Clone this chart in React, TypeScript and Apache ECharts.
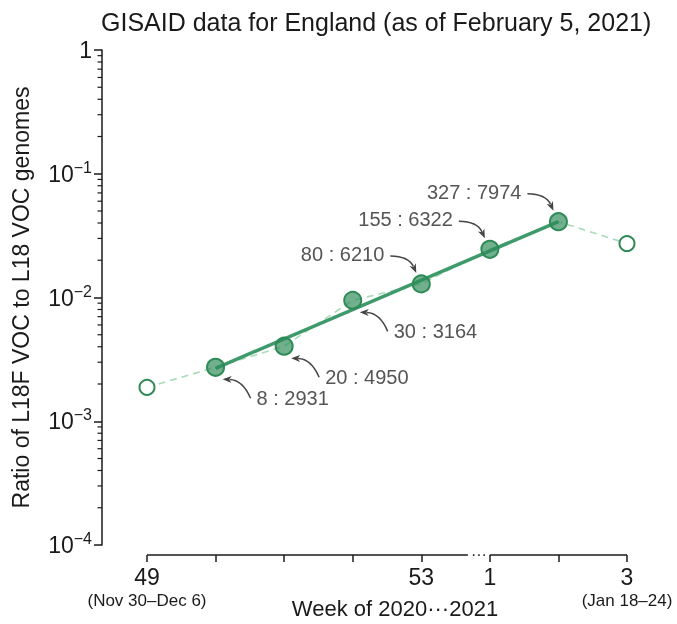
import React, { useEffect, useRef } from 'react';
import * as echarts from 'echarts';

// ---- data ----
const weekTickLabels = ['49', '', '', '', '53', '1', '', '3'];
const weekSubLabels = ['(Nov 30–Dec 6)', '', '', '', '', '', '', '(Jan 18–24)'];
const filledWeeks = [1, 2, 3, 4, 5, 6];
const l18fCounts = [8, 20, 30, 80, 155, 327];
const l18Counts = [2931, 4950, 3164, 6210, 6322, 7974];
const openWeeks = [0, 7];
const openRatios = [0.00188, 0.0273];
const fitWeeks = [1, 6];
const fitRatios = [0.00268, 0.0411];
const yTickValues = [1e-4, 1e-3, 1e-2, 1e-1, 1];

const FONT = '"Liberation Sans", Arial, sans-serif';
const GREEN = '#2e8b57';
const INK = '#1a1a1a';

const filledRatios = l18fCounts.map((n, i) => n / l18Counts[i]);

export default function App() {
  const ref = useRef<HTMLDivElement>(null);
  useEffect(() => {
    if (!ref.current) return;
    const chart = echarts.init(ref.current, undefined, { renderer: 'svg' });
    const allPts: [number, number][] = [
      [openWeeks[0], openRatios[0]],
      ...filledWeeks.map((w, i) => [w, filledRatios[i]] as [number, number]),
      [openWeeks[1], openRatios[1]],
    ];
    chart.setOption({
      animation: false,
      title: {
        text: 'GISAID data for England (as of February 5, 2021)',
        left: 96,
        top: 4,
        textStyle: { fontFamily: FONT, fontSize: 25, fontWeight: 'normal', color: INK },
      },
      grid: { left: 147, right: 50, top: 50, bottom: 79, containLabel: false, outerBoundsMode: 'none' },
      xAxis: {
        type: 'value',
        min: 0,
        max: 7,
        interval: 1,
        offset: 10,
        splitLine: { show: false },
        axisLine: { show: false, onZero: false },
        axisTick: { show: true, length: 7, lineStyle: { color: INK, width: 1.5 } },
        axisLabel: {
          margin: 9,
          formatter: (v: number) => {
            const i = Math.round(v);
            const m = weekTickLabels[i];
            if (!m) return '';
            const s = weekSubLabels[i];
            return s ? `{m|${m}}\n{s|${s}}` : `{m|${m}}`;
          },
          rich: {
            m: { fontFamily: FONT, fontSize: 23, color: INK, lineHeight: 26 },
            s: { fontFamily: FONT, fontSize: 17, color: INK, lineHeight: 20 },
          },
        },
        name: 'Week of 2020···2021',
        nameLocation: 'middle',
        nameGap: 42,
        nameMoveOverlap: false,
        nameTextStyle: { fontFamily: FONT, fontSize: 22, color: INK, padding: [0, 0, 0, 16] },
      },
      yAxis: {
        type: 'log',
        logBase: 10,
        min: 1e-4,
        max: 1,
        offset: 45,
        splitLine: { show: false },
        axisLine: { show: true, onZero: false, lineStyle: { color: INK, width: 1.5 } },
        axisTick: { show: true, length: 8, lineStyle: { color: INK, width: 1.5 } },
        axisLabel: {
          margin: 10,
          formatter: (v: number) => {
            const e = Math.round(Math.log10(v));
            if (!yTickValues.some((t) => Math.abs(Math.log10(t) - e) < 1e-6)) return '';
            return e === 0 ? '{b|1}' : `{b|10}{s|−${-e}}`;
          },
          rich: {
            b: { fontFamily: FONT, fontSize: 23, color: INK },
            s: { fontFamily: FONT, fontSize: 16, color: INK, padding: [0, 0, 13, 0] },
          },
        },
        name: 'Ratio of L18F VOC to L18 VOC genomes',
        nameLocation: 'middle',
        nameGap: 70,
        nameRotate: 90,
        nameMoveOverlap: false,
        nameTextStyle: { fontFamily: FONT, fontSize: 23, color: INK },
      },
      series: [
        {
          type: 'line',
          data: allPts,
          symbol: 'none',
          lineStyle: { color: '#a8dcb8', width: 1.6, type: [7, 5] },
          z: 1,
        },
        {
          type: 'line',
          data: fitWeeks.map((w, i) => [w, fitRatios[i]]),
          symbol: 'none',
          lineStyle: { color: '#3f9a6b', width: 3.5 },
          z: 2,
        },
        {
          type: 'scatter',
          data: filledWeeks.map((w, i) => [w, filledRatios[i]]),
          symbolSize: 17,
          itemStyle: { color: 'rgba(46,139,87,0.68)', borderColor: GREEN, borderWidth: 2, opacity: 1 },
          z: 3,
        },
        {
          type: 'scatter',
          data: openWeeks.map((w, i) => [w, openRatios[i]]),
          symbolSize: 15,
          itemStyle: { color: '#fff', borderColor: GREEN, borderWidth: 2, opacity: 1 },
          z: 3,
        },
      ],
    });

    const px = (x: number, y: number) => chart.convertToPixel({ gridIndex: 0 }, [x, y]) as number[];
    const els: any[] = [];
    const base = px(0, 1e-4);
    const axisY = base[1] + 10;
    const axisX = base[0] - 45;
    // broken x axis line
    const x0 = px(0, 1)[0];
    const xb1 = px(4.68, 1)[0];
    const xdots = px(4.84, 1)[0];
    const xb2 = px(5, 1)[0];
    const x7 = px(7, 1)[0];
    els.push({ type: 'line', shape: { x1: x0, y1: axisY, x2: xb1, y2: axisY }, style: { stroke: INK, lineWidth: 1.5 } });
    els.push({ type: 'line', shape: { x1: xb2, y1: axisY, x2: x7, y2: axisY }, style: { stroke: INK, lineWidth: 1.5 } });
    els.push({
      type: 'text', x: xdots, y: axisY - 1,
      style: { text: '···', fill: INK, fontSize: 16, fontFamily: FONT, align: 'center', verticalAlign: 'middle' },
    });
    // minor ticks on log y axis
    for (let e = -4; e < 0; e++) {
      for (let k = 2; k <= 9; k++) {
        const y = px(0, k * Math.pow(10, e))[1];
        els.push({ type: 'line', shape: { x1: axisX - 4.5, y1: y, x2: axisX, y2: y }, style: { stroke: INK, lineWidth: 1.2 } });
      }
    }
    // annotations (arc-style arrows)
    filledWeeks.forEach((w, i) => {
      const p = px(w, filledRatios[i]);
      const above = i >= 3;
      const label = `${l18fCounts[i]} : ${l18Counts[i]}`;
      let tx, ty, s, t, align, rad;
      if (above) {
        tx = p[0] - 37; ty = p[1] - 30; align = 'right';
        s = [p[0] - 31, p[1] - 28]; t = [p[0] - 5, p[1] - 11]; rad = 0.32;
      } else {
        tx = p[0] + 41; ty = p[1] + 31; align = 'left';
        s = [p[0] + 35, p[1] + 31]; t = [p[0] + 7, p[1] + 12]; rad = -0.32;
      }
      const mx = (s[0] + t[0]) / 2, my = (s[1] + t[1]) / 2;
      const ddx = t[0] - s[0], ddy = t[1] - s[1];
      const c = [mx + rad * ddy, my - rad * ddx];
      els.push({
        type: 'text', x: tx, y: ty,
        style: { text: label, fill: '#555', fontSize: 20, fontFamily: FONT, align, verticalAlign: 'middle' },
      });
      const dx = t[0] - c[0], dy = t[1] - c[1];
      const len = Math.hypot(dx, dy);
      const ux = dx / len, uy = dy / len;
      const L = 9, W = 3.5;
      const bx = t[0] - ux * L, by = t[1] - uy * L;
      els.push({
        type: 'bezierCurve',
        shape: { x1: s[0], y1: s[1], x2: bx + ux * 2, y2: by + uy * 2, cpx1: c[0], cpy1: c[1] },
        style: { stroke: '#444', lineWidth: 1.5, fill: null },
      });
      els.push({
        type: 'polygon',
        shape: { points: [[t[0], t[1]], [bx - uy * W, by + ux * W], [bx + ux * 2.5, by + uy * 2.5], [bx + uy * W, by - ux * W]] },
        style: { fill: '#444' },
      });
    });
    chart.setOption({ graphic: els });
    return () => chart.dispose();
  }, []);
  return <div ref={ref} style={{ position: 'fixed', left: 0, top: 0, width: 677, height: 624 }} />;
}
